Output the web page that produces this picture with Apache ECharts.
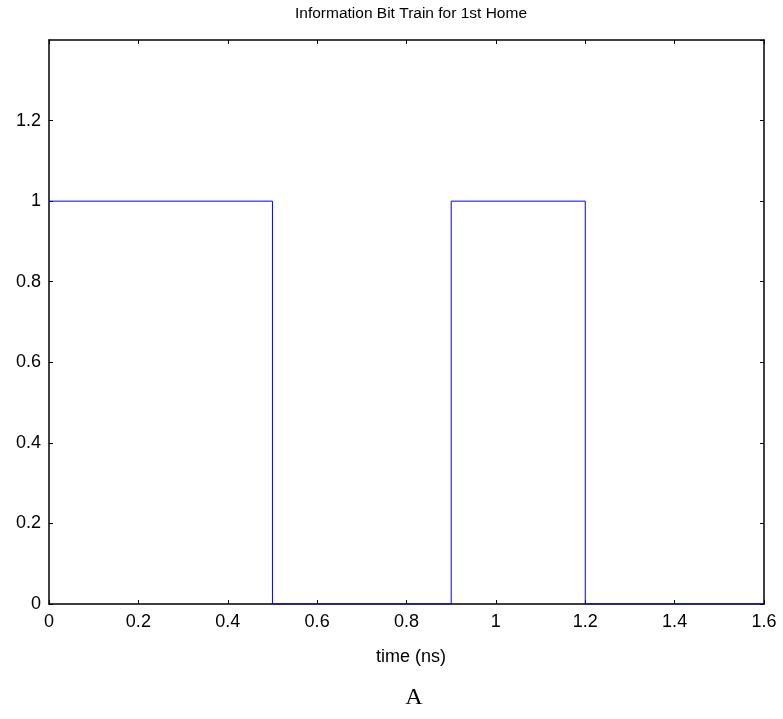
<!DOCTYPE html>
<html>
<head>
<meta charset="utf-8">
<script src="https://cdn.jsdelivr.net/npm/echarts@6/dist/echarts.min.js"></script>
<style>
html,body{margin:0;padding:0;background:#fff;}
#main{width:783px;height:719px;}
</style>
</head>
<body>
<div id="main"></div>
<script>
// Data
const timeNs = [0, 0.5, 0.5, 0.9, 0.9, 1.2, 1.2, 1.6];
const bitValue = [1, 1, 0, 0, 1, 1, 0, 0];
const xTicks = [0, 0.2, 0.4, 0.6, 0.8, 1, 1.2, 1.4, 1.6];
const yTicks = [0, 0.2, 0.4, 0.6, 0.8, 1, 1.2];
const titleText = 'Information Bit Train for 1st Home';
const xName = 'time (ns)';
const caption = 'A';

const chart = echarts.init(document.getElementById('main'));
const points = timeNs.map((t, i) => [t, bitValue[i]]);
const font = 'Arial, "Liberation Sans", Helvetica, sans-serif';
const fmt = v => String(Math.round(v * 10) / 10);
const axisLine = { show: true, onZero: false, lineStyle: { color: '#000', width: 1.5 } };
const tick = { show: true, inside: true, length: 4, lineStyle: { color: '#000', width: 1 } };

chart.setOption({
  animation: false,
  backgroundColor: '#fff',
  title: [
    { text: titleText, left: 406, top: 1, textAlign: 'center',
      textStyle: { fontFamily: font, fontSize: 15.5, fontWeight: 'normal', color: '#000' } },
    { text: xName, left: 406, top: 643, textAlign: 'center',
      textStyle: { fontFamily: font, fontSize: 18, fontWeight: 'normal', color: '#000' } },
    { text: caption, left: 409, top: 681, textAlign: 'center',
      textStyle: { fontFamily: '"Liberation Serif", "Times New Roman", serif', fontSize: 24, fontWeight: 'normal', color: '#000' } }
  ],
  grid: { left: 49, right: 19, top: 40, bottom: 115, containLabel: false },
  xAxis: [
    { type: 'value', min: 0, max: 1.6, interval: 0.2, position: 'bottom',
      axisLine: axisLine, axisTick: tick,
      axisLabel: { show: true, margin: 9, fontFamily: font, fontSize: 18, color: '#000', formatter: fmt },
      splitLine: { show: false } },
    { type: 'value', min: 0, max: 1.6, interval: 0.2, position: 'top',
      axisLine: axisLine, axisTick: tick,
      axisLabel: { show: false }, splitLine: { show: false } }
  ],
  yAxis: [
    { type: 'value', min: 0, max: 1.4, interval: 0.2, position: 'left',
      axisLine: axisLine, axisTick: tick,
      axisLabel: { show: true, margin: 8, fontFamily: font, fontSize: 18, color: '#000', formatter: fmt, showMaxLabel: false },
      splitLine: { show: false } },
    { type: 'value', min: 0, max: 1.4, interval: 0.2, position: 'right',
      axisLine: axisLine, axisTick: tick,
      axisLabel: { show: false }, splitLine: { show: false } }
  ],
  series: [{
    type: 'line', data: points, xAxisIndex: 0, yAxisIndex: 0,
    showSymbol: false, symbol: 'none',
    lineStyle: { color: '#0000ff', width: 1 },
    z: 3
  }]
});
</script>
</body>
</html>
